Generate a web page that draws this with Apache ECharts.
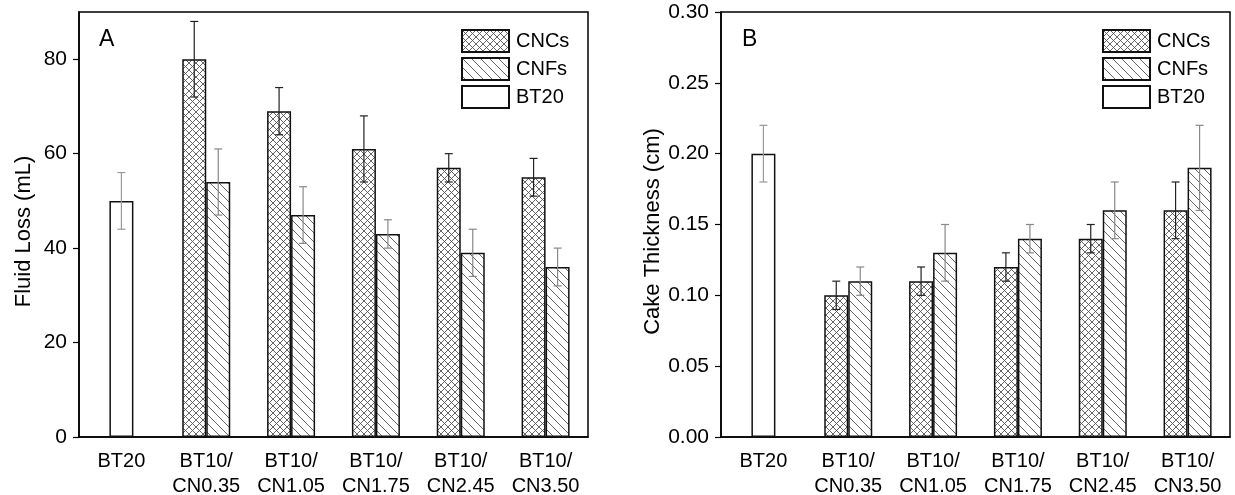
<!DOCTYPE html>
<html>
<head>
<meta charset="utf-8">
<script src="https://cdn.jsdelivr.net/npm/echarts@6/dist/echarts.min.js"></script>
<style>
  html, body { margin: 0; padding: 0; background: #fff; }
  #chart { width: 1235px; height: 495px; }
</style>
</head>
<body>
<div id="chart"></div>
<script>
// categories shared by both panels
const categories = ['BT20', 'BT10/\nCN0.35', 'BT10/\nCN1.05', 'BT10/\nCN1.75', 'BT10/\nCN2.45', 'BT10/\nCN3.50']

// panel A - fluid loss (mL)
const lossCNCs = ['-', 80, 69, 61, 57, 55]
const lossCNCsErr = ['-', 8, 5, 7, 3, 4]
const lossCNFs = ['-', 54, 47, 43, 39, 36]
const lossCNFsErr = ['-', 7, 6, 3, 5, 4]
const lossBT20 = [50, '-', '-', '-', '-', '-']
const lossBT20Err = [6, '-', '-', '-', '-', '-']

// panel B - cake thickness (cm)
const thickCNCs = ['-', 0.10, 0.11, 0.12, 0.14, 0.16]
const thickCNCsErr = ['-', 0.01, 0.01, 0.01, 0.01, 0.02]
const thickCNFs = ['-', 0.11, 0.13, 0.14, 0.16, 0.19]
const thickCNFsErr = ['-', 0.01, 0.02, 0.01, 0.02, 0.03]
const thickBT20 = [0.20, '-', '-', '-', '-', '-']
const thickBT20Err = [0.02, '-', '-', '-', '-', '-']

const FONT = 'Liberation Sans, Arial, sans-serif'
const BAR_W = 24

// hatch patterns
function crossHatch () {
  const c = document.createElement('canvas')
  c.width = 7; c.height = 7
  const g = c.getContext('2d')
  g.fillStyle = '#fff'; g.fillRect(0, 0, 7, 7)
  g.strokeStyle = '#555'; g.lineWidth = 0.9
  g.beginPath()
  g.moveTo(0, 0); g.lineTo(7, 7)
  g.moveTo(0, 7); g.lineTo(7, 0)
  g.stroke()
  return c
}
function diagHatch () {
  const c = document.createElement('canvas')
  c.width = 9; c.height = 9
  const g = c.getContext('2d')
  g.fillStyle = '#fff'; g.fillRect(0, 0, 9, 9)
  g.strokeStyle = '#666'; g.lineWidth = 1
  g.beginPath()
  g.moveTo(-1, -1); g.lineTo(10, 10)
  g.stroke()
  return c
}
const cncFill = { image: crossHatch(), repeat: 'repeat' }
const cnfFill = { image: diagHatch(), repeat: 'repeat' }

function barSeries (name, data, fill, xIdx, yIdx) {
  return {
    name: name,
    type: 'bar',
    xAxisIndex: xIdx,
    yAxisIndex: yIdx,
    data: data,
    barWidth: BAR_W,
    barGap: '0%',
    itemStyle: { color: fill, borderColor: '#111', borderWidth: 1.5 }
  }
}

function errSeries (vals, errs, offset, color, xIdx, yIdx) {
  const data = []
  vals.forEach((v, i) => { if (v !== '-') data.push([i, v, errs[i]]) })
  return {
    type: 'custom',
    xAxisIndex: xIdx,
    yAxisIndex: yIdx,
    z: 5,
    silent: true,
    encode: { x: 0, y: 1 },
    data: data,
    renderItem: function (params, api) {
      const i = api.value(0), v = api.value(1), e = api.value(2)
      const hi = api.coord([i, v + e])
      const lo = api.coord([i, v - e])
      const x = hi[0] + offset
      const cap = 4
      const st = { stroke: color, lineWidth: 1.2 }
      return {
        type: 'group',
        children: [
          { type: 'line', shape: { x1: x, y1: hi[1], x2: x, y2: lo[1] }, style: st },
          { type: 'line', shape: { x1: x - cap, y1: hi[1], x2: x + cap, y2: hi[1] }, style: st },
          { type: 'line', shape: { x1: x - cap, y1: lo[1], x2: x + cap, y2: lo[1] }, style: st }
        ]
      }
    }
  }
}

function catAxis (gridIdx, show) {
  return {
    type: 'category',
    gridIndex: gridIdx,
    data: categories,
    show: show,
    axisLine: { lineStyle: { color: '#000', width: 1.5 } },
    axisTick: { inside: true, alignWithLabel: true, length: 7, lineStyle: { color: '#000', width: 1.2 } },
    axisLabel: { color: '#000', fontFamily: FONT, fontSize: 20, lineHeight: 25, margin: 12, interval: 0, hideOverlap: false }
  }
}

const legendCommon = {
  orient: 'vertical',
  data: ['CNCs', 'CNFs', 'BT20'],
  itemWidth: 47,
  itemHeight: 22,
  itemGap: 4,
  padding: 0,
  icon: 'rect',
  textStyle: { color: '#000', fontFamily: FONT, fontSize: 20, padding: [0, 0, 0, 2] }
}

const gridCommon = {
  top: 12, bottom: 58, show: true, borderColor: '#000', borderWidth: 1.5,
  backgroundColor: 'transparent', containLabel: false, outerBoundsMode: 'none'
}

const nameStyle = { color: '#000', fontFamily: FONT, fontSize: 22, padding: [0, 14, 0, 0] }

const chart = echarts.init(document.getElementById('chart'))
chart.setOption({
  animation: false,
  backgroundColor: '#fff',
  grid: [
    Object.assign({ left: 79, right: 647 }, gridCommon),
    Object.assign({ left: 721, right: 5 }, gridCommon)
  ],
  legend: [
    Object.assign({ left: 461, top: 29 }, legendCommon),
    Object.assign({ left: 1102, top: 29 }, legendCommon)
  ],
  graphic: [
    { type: 'text', left: 99, top: 28, style: { text: 'A', font: '23px ' + FONT, fill: '#000' } },
    { type: 'text', left: 742, top: 28, style: { text: 'B', font: '23px ' + FONT, fill: '#000' } }
  ],
  xAxis: [catAxis(0, true), catAxis(0, false), catAxis(1, true), catAxis(1, false)],
  yAxis: [
    {
      type: 'value', gridIndex: 0, min: 0, max: 90, interval: 20,
      name: 'Fluid Loss (mL)', nameLocation: 'middle', nameGap: 44,
      nameTextStyle: nameStyle,
      splitLine: { show: false },
      axisLine: { show: true, lineStyle: { color: '#000', width: 1.5 } },
      axisTick: { show: true, length: 6, lineStyle: { color: '#000', width: 1.2 } },
      axisLabel: { color: '#000', fontFamily: FONT, fontSize: 21, margin: 12, showMaxLabel: false }
    },
    {
      type: 'value', gridIndex: 1, min: 0, max: 0.30, interval: 0.05,
      name: 'Cake Thickness (cm)', nameLocation: 'middle', nameGap: 51,
      nameTextStyle: nameStyle,
      splitLine: { show: false },
      axisLine: { show: true, lineStyle: { color: '#000', width: 1.5 } },
      axisTick: { show: true, length: 6, lineStyle: { color: '#000', width: 1.2 } },
      axisLabel: { color: '#000', fontFamily: FONT, fontSize: 21, margin: 12, formatter: v => v.toFixed(2) }
    }
  ],
  series: [
    barSeries('CNCs', lossCNCs, cncFill, 0, 0),
    barSeries('CNFs', lossCNFs, cnfFill, 0, 0),
    barSeries('BT20', lossBT20, '#fff', 1, 0),
    barSeries('CNCs', thickCNCs, cncFill, 2, 1),
    barSeries('CNFs', thickCNFs, cnfFill, 2, 1),
    barSeries('BT20', thickBT20, '#fff', 3, 1),
    errSeries(lossCNCs, lossCNCsErr, -BAR_W / 2, '#222', 0, 0),
    errSeries(lossCNFs, lossCNFsErr, BAR_W / 2, '#888', 0, 0),
    errSeries(lossBT20, lossBT20Err, 0, '#999', 1, 0),
    errSeries(thickCNCs, thickCNCsErr, -BAR_W / 2, '#222', 2, 1),
    errSeries(thickCNFs, thickCNFsErr, BAR_W / 2, '#888', 2, 1),
    errSeries(thickBT20, thickBT20Err, 0, '#999', 3, 1)
  ]
})
</script>
</body>
</html>
